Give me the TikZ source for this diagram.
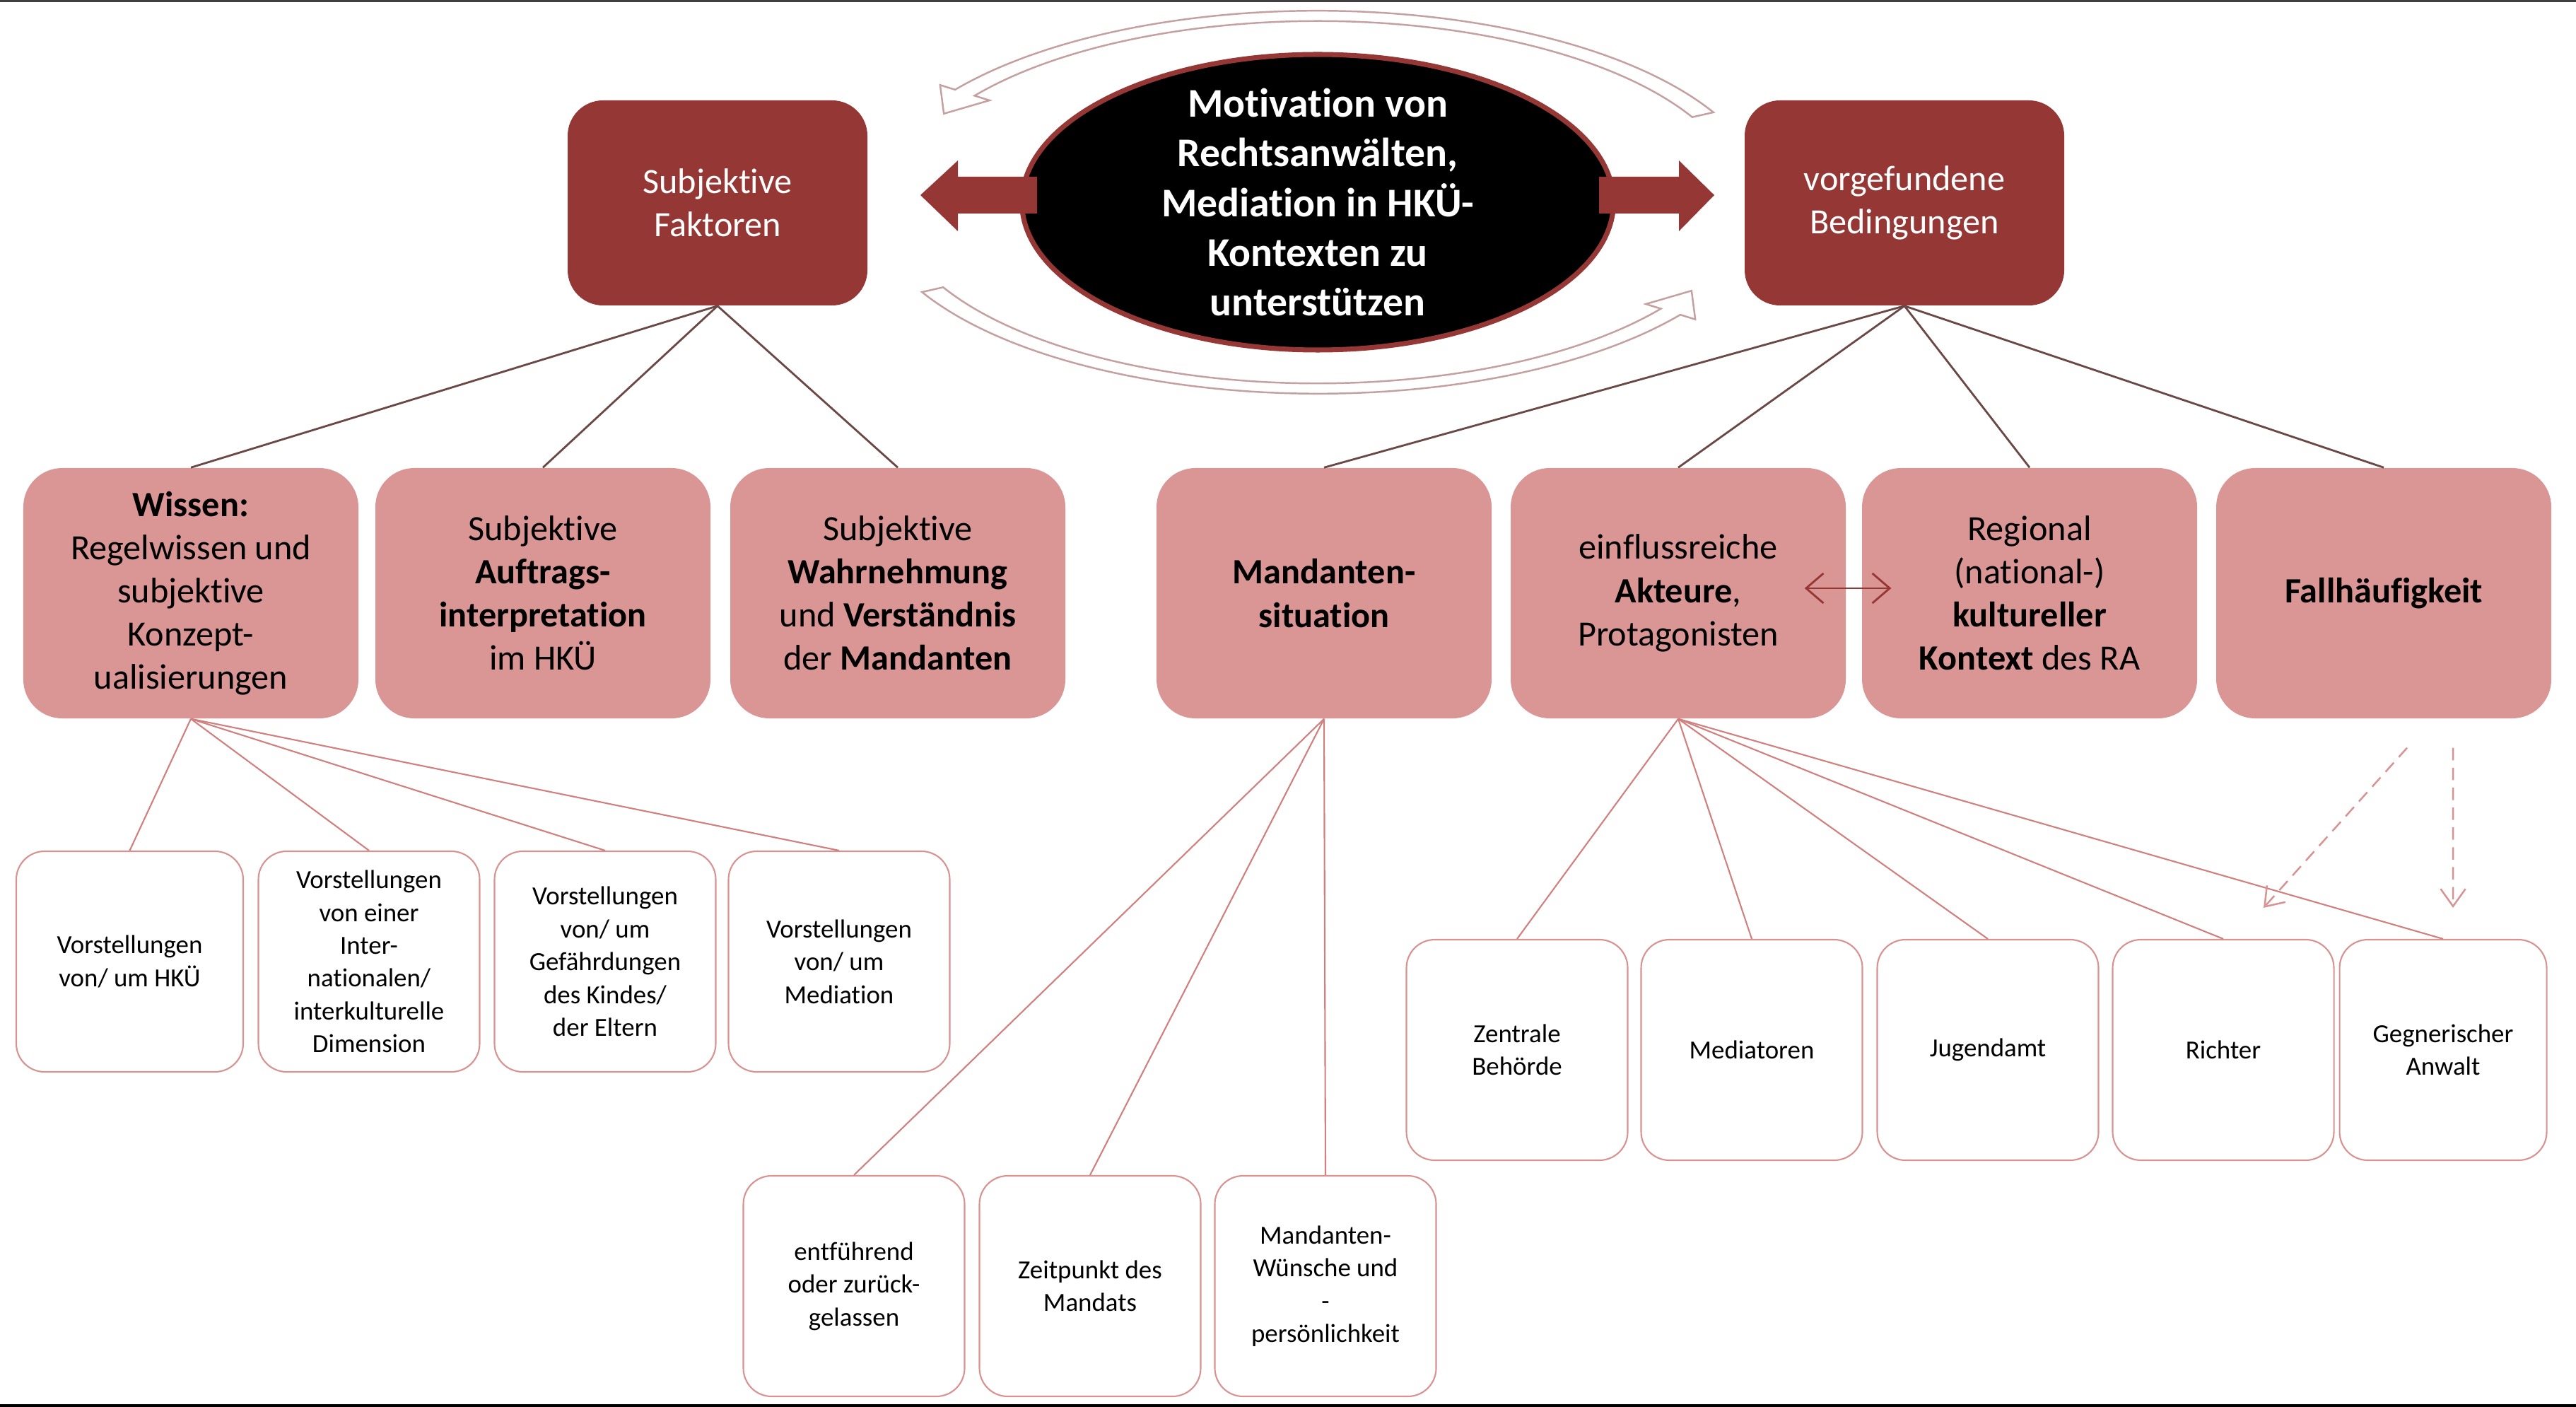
\documentclass[tikz,border=0pt]{standalone}
\usepackage{fontspec}
\setmainfont{Carlito}[Ligatures=NoCommon]
\usetikzlibrary{shapes.geometric}
\usetikzlibrary{arrows.meta}
\definecolor{wine}{RGB}{149,55,53}
\definecolor{rose}{RGB}{217,150,148}
\definecolor{linkgrey}{RGB}{105,72,70}
\definecolor{sublink}{RGB}{208,128,126}
\definecolor{detailline}{RGB}{216,146,146}
\definecolor{loopline}{RGB}{196,160,160}
\newcommand{\bigfont}{\fontsize{16.4}{20}\selectfont}
\newcommand{\midfont}{\fontsize{14.3}{17.4}\selectfont}
\newcommand{\smallfont}{\fontsize{10.5}{13.2}\selectfont}

\begin{document}
\begin{tikzpicture}[
  core/.style={ellipse, fill=black, draw=wine, line width=2pt, minimum width=8.37cm, minimum height=4.18cm, inner sep=0pt},
  coretext/.style={text=white, font=\bigfont\bfseries, align=center, inner sep=0pt},
  head/.style={rectangle, rounded corners=0.5cm, fill=wine, text=white, minimum width=4.24cm, minimum height=2.9cm, align=center, font=\midfont},
  factor/.style={rectangle, rounded corners=0.55cm, fill=rose, minimum width=4.74cm, minimum height=3.54cm, align=center, font=\midfont},
  detail/.style={rectangle, rounded corners=0.4cm, draw=detailline, line width=0.6pt, fill=white, minimum width=3.13cm, minimum height=3.12cm, align=center, font=\smallfont},
  link/.style={draw=linkgrey, line width=0.8pt},
  sublink/.style={draw=sublink, line width=0.6pt},
  looparrow/.style={draw=loopline, fill=white, line width=0.7pt, line join=miter},
  hint/.style={draw=detailline, line width=0.7pt, dash pattern=on 5pt off 3pt, -{Straight Barb[length=7pt,width=10pt]}},
]
\useasboundingbox (0,0) rectangle (36.44,-19.90);
\fill[black!75] (0,0) rectangle (36.44,-0.03); %frame top
\fill[black] (0,-19.86) rectangle (36.44,-19.90); %frame bottom

% loop arrows round the centre
\begin{scope}[shift={(18.64,-2.86)}, xscale=6.17, yscale=2.635]
\draw[looparrow] (28:1.0275) arc[start angle=28, end angle=144, radius=1.0275] -- (144:1.07) -- (151:0.98) -- (144:0.93) -- (144:0.9725) arc[start angle=144, end angle=28, radius=0.9725] -- cycle;
\draw[looparrow] (208:1.0275) arc[start angle=208, end angle=324, radius=1.0275] -- (324:1.07) -- (331:0.98) -- (324:0.93) -- (324:0.9725) arc[start angle=324, end angle=208, radius=0.9725] -- cycle;
\end{scope}

\node[core] (motiv) at (18.64,-2.86) {}; %centre
\node[coretext] (motivtext) at (motiv.center) {Motivation von\\Rechtsanwälten,\\Mediation in HKÜ-\\Kontexten zu\\unterstützen};
\fill[wine] (14.67,-2.50) -- (13.55,-2.50) -- (13.55,-2.27) -- (13.02,-2.76) -- (13.55,-3.27) -- (13.55,-3.02) -- (14.67,-3.02) -- cycle; %left arrow
\fill[wine] (22.62,-2.50) -- (23.75,-2.50) -- (23.75,-2.27) -- (24.25,-2.76) -- (23.75,-3.27) -- (23.75,-3.02) -- (22.62,-3.02) -- cycle; %right arrow

\node[head] (faktoren) at (10.15,-2.87) {Subjektive\\Faktoren};
\node[head, minimum width=4.52cm] (bedingungen) at (26.94,-2.87) {vorgefundene\\Bedingungen};

% subjective side
\node[factor] (wissen) at (2.70,-8.39) {\textbf{Wissen:}\\Regelwissen und\\subjektive\\Konzept-\\ualisierungen};
\node[factor] (auftrag) at (7.68,-8.39) {Subjektive\\\textbf{Auftrags-}\\\textbf{interpretation}\\im HKÜ};
\node[factor] (wahrnehmung) at (12.70,-8.39) {Subjektive\\\textbf{Wahrnehmung}\\und \textbf{Verständnis}\\der \textbf{Mandanten}};
% conditions side
\node[factor] (mandant) at (18.73,-8.39) {\textbf{Mandanten-}\\\textbf{situation}};
\node[factor] (akteure) at (23.74,-8.39) {einflussreiche\\\textbf{Akteure},\\Protagonisten};
\node[factor] (kontext) at (28.71,-8.39) {Regional\\(national-)\\\textbf{kultureller}\\\textbf{Kontext} des RA};
\node[factor] (haeufig) at (33.72,-8.39) {\textbf{Fallhäufigkeit}};

\node[detail, minimum width=3.21cm] (vhku) at (1.835,-13.60) {Vorstellungen\\von/ um HKÜ};
\node[detail] (vinter) at (5.22,-13.60) {Vorstellungen\\von einer\\Inter-\\nationalen/\\interkulturelle\\Dimension};
\node[detail] (vgefahr) at (8.56,-13.60) {Vorstellungen\\von/ um\\Gefährdungen\\des Kindes/\\der Eltern};
\node[detail] (vmed) at (11.87,-13.60) {Vorstellungen\\von/ um\\Mediation};

\node[detail] (entf) at (12.08,-18.19) {entführend\\oder zurück-\\gelassen};
\node[detail] (zeitp) at (15.42,-18.19) {Zeitpunkt des\\Mandats};
\node[detail] (wuensche) at (18.75,-18.19) {Mandanten-\\Wünsche und\\-\\persönlichkeit};

\node[detail] (zba) at (21.46,-14.85) {Zentrale\\Behörde};
\node[detail] (medi) at (24.78,-14.85) {Mediatoren};
\node[detail] (jamt) at (28.12,-14.85) {Jugendamt};
\node[detail] (richter) at (31.45,-14.85) {Richter};
\node[detail, minimum width=2.93cm] (anwalt) at (34.56,-14.85) {Gegnerischer\\Anwalt};

\draw[link] (faktoren.south) -- (wissen.north);
\draw[link] (faktoren.south) -- (auftrag.north);
\draw[link] (faktoren.south) -- (wahrnehmung.north);
\draw[link] (bedingungen.south) -- (mandant.north);
\draw[link] (bedingungen.south) -- (akteure.north);
\draw[link] (bedingungen.south) -- (kontext.north);
\draw[link] (bedingungen.south) -- (haeufig.north);

\draw[sublink] (wissen.south) -- (vhku.north);
\draw[sublink] (wissen.south) -- (vinter.north);
\draw[sublink] (wissen.south) -- (vgefahr.north);
\draw[sublink] (wissen.south) -- (vmed.north);
\draw[sublink] (mandant.south) -- (entf.north);
\draw[sublink] (mandant.south) -- (zeitp.north);
\draw[sublink] (mandant.south) -- (wuensche.north);
\draw[sublink] (akteure.south) -- (zba.north);
\draw[sublink] (akteure.south) -- (medi.north);
\draw[sublink] (akteure.south) -- (jamt.north);
\draw[sublink] (akteure.south) -- (richter.north);
\draw[sublink] (akteure.south) -- (anwalt.north);

\draw[wine, line width=0.8pt, {Straight Barb[length=7pt,width=12pt]}-{Straight Barb[length=7pt,width=12pt]}] ([xshift=-0.59cm,yshift=0.07cm]akteure.east) -- ([xshift=0.42cm,yshift=0.07cm]kontext.west); %actors vs context

\coordinate (h1) at ([xshift=0.33cm,yshift=-0.41cm]haeufig.south);
\coordinate (h2) at ([xshift=0.98cm,yshift=-0.41cm]haeufig.south);
\coordinate (r1) at ([xshift=0.57cm,yshift=0.44cm]richter.north);
\coordinate (r2) at ([xshift=0.14cm,yshift=0.44cm]anwalt.north);
\draw[hint] (h1) -- (r1);
\draw[hint] (h2) -- (r2);
\end{tikzpicture}
\end{document}
